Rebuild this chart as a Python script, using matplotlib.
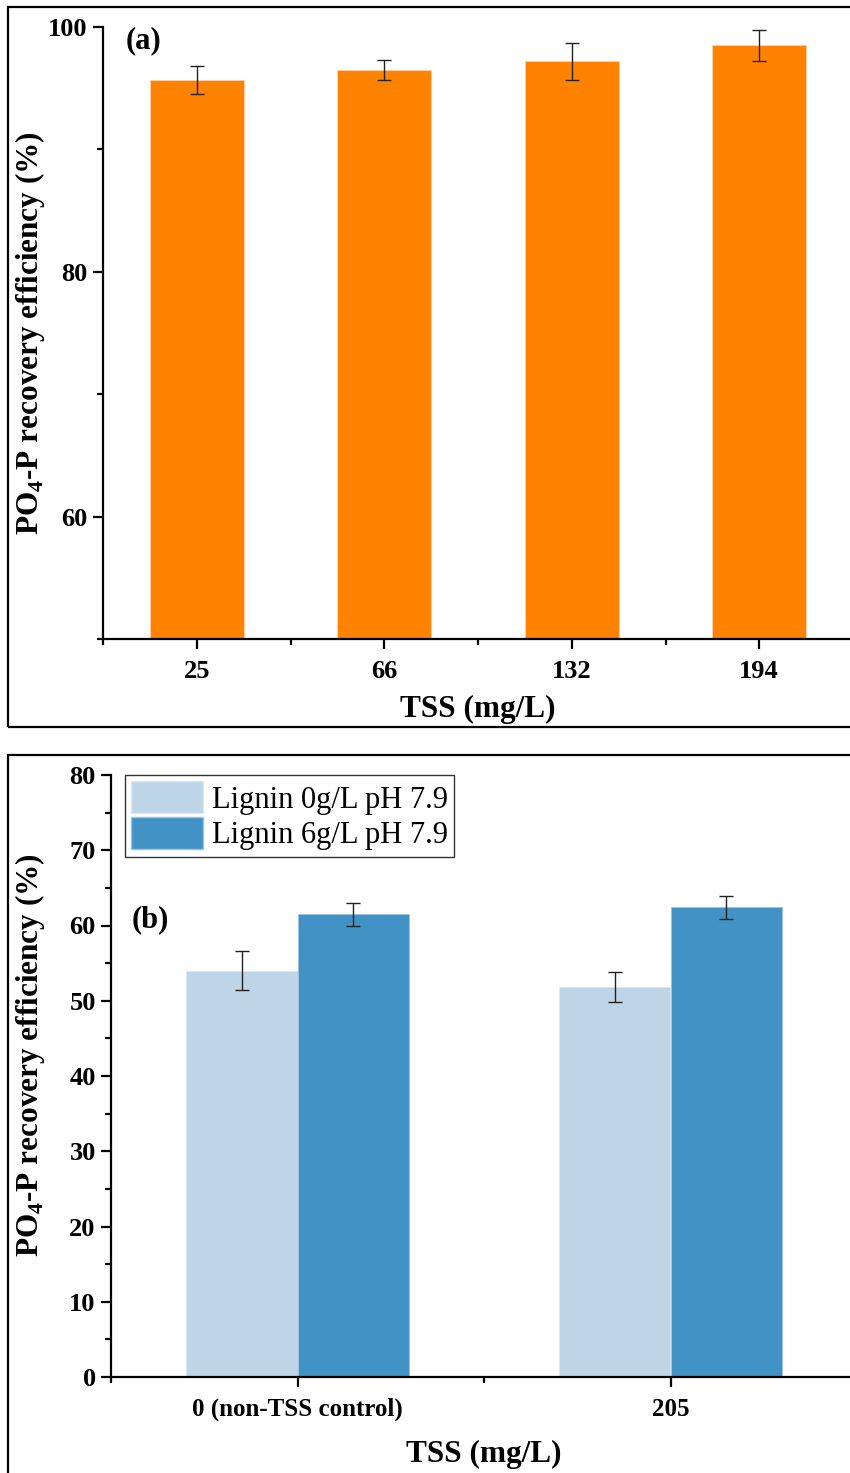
import numpy as np
import matplotlib
matplotlib.use("Agg")
import matplotlib.pyplot as plt
from matplotlib.patches import Rectangle, Patch
from matplotlib.ticker import FixedLocator, MultipleLocator

plt.rcParams['font.family'] = ['Liberation Serif', 'DejaVu Serif']
plt.rcParams['mathtext.fontset'] = 'custom'
plt.rcParams['mathtext.rm'] = 'Liberation Serif:bold'
plt.rcParams['mathtext.bf'] = 'Liberation Serif:bold'

#### panel (a) data ####
tss_a = ["25", "66", "132", "194"]
eff_a = [95.7, 96.5, 97.2, 98.5]
err_a = [1.15, 0.8, 1.5, 1.25]

#### panel (b) data ####
tss_b = ["0 (non-TSS control)", "205"]
lignin_labels = ["Lignin 0g/L pH 7.9", "Lignin 6g/L pH 7.9"]
eff_b0 = [54.0, 51.8]
err_b0 = [2.6, 2.0]
eff_b6 = [61.5, 62.4]
err_b6 = [1.5, 1.5]

W, H = 850, 1473
fig = plt.figure(figsize=(W/100, H/100), dpi=100)

def fx(px):
    return px / W

def fy(py):
    return 1 - py / H

# outer boxes around each panel
fig.patches.append(Rectangle((fx(8), fy(727)), fx(900), fy(7) - fy(727),
                             transform=fig.transFigure, fill=False, lw=1.6, ec='black'))
fig.patches.append(Rectangle((fx(8), fy(1500)), fx(900), fy(755) - fy(1500),
                             transform=fig.transFigure, fill=False, lw=1.6, ec='black'))

labfont = dict(fontsize=22.5, fontweight='bold')

### panel (a) ###
ax1 = fig.add_axes([fx(103), fy(639), fx(853) - fx(103), fy(27) - fy(639)])
x = np.arange(len(tss_a))
ax1.bar(x, eff_a, width=0.5, color='#FF8300', edgecolor='#FFD2A8', lw=0.6)
ax1.errorbar(x, eff_a, yerr=err_a, fmt='none', ecolor='#222222', elinewidth=1.0,
             capsize=5, capthick=1.0)
ax1.set_xlim(-0.5, 3.5)
ax1.set_ylim(50, 100)
ax1.set_xticks(x)
ax1.set_xticklabels(tss_a, fontsize=19, fontweight='bold')
ax1.xaxis.set_minor_locator(FixedLocator([-0.5, 0.5, 1.5, 2.5]))
ax1.set_yticks([60, 80, 100])
ax1.set_yticklabels(["60", "80", "100"], fontsize=19, fontweight='bold')
ax1.yaxis.set_minor_locator(FixedLocator([50, 70, 90]))
ax1.set_xlabel("TSS (mg/L)", **labfont)
ax1.set_ylabel("PO$_{4}$-P recovery efficiency (%)", **labfont)
ax1.xaxis.set_label_coords(0.5, -0.092)
ax1.yaxis.set_label_coords(-0.075, 0.5)
ax1.text(0.03, 0.978, "(a)", transform=ax1.transAxes, ha='left', va='center',
         fontsize=22, fontweight='bold')

### panel (b) ###
ax2 = fig.add_axes([fx(111), fy(1377), fx(857) - fx(111), fy(775) - fy(1377)])
xb = np.arange(len(tss_b))
bw = 0.3
c0, c6 = '#BDD5E7', '#4292C6'
ax2.bar(xb - bw/2, eff_b0, width=bw, color=c0, edgecolor='#DCE9F3', lw=0.6)
ax2.bar(xb + bw/2, eff_b6, width=bw, color=c6, edgecolor='#9CC4E0', lw=0.6)
ax2.errorbar(xb - bw/2, eff_b0, yerr=err_b0, fmt='none', ecolor='#222222',
             elinewidth=1.0, capsize=5, capthick=1.0)
ax2.errorbar(xb + bw/2, eff_b6, yerr=err_b6, fmt='none', ecolor='#222222',
             elinewidth=1.0, capsize=5, capthick=1.0)
ax2.set_xlim(-0.5, 1.5)
ax2.set_ylim(0, 80)
ax2.set_xticks(xb)
ax2.set_xticklabels(tss_b, fontsize=18, fontweight='bold')
ax2.xaxis.set_minor_locator(FixedLocator([-0.5, 0.5]))
ax2.set_yticks(np.arange(0, 81, 10))
ax2.set_yticklabels([str(v) for v in range(0, 81, 10)], fontsize=19, fontweight='bold')
ax2.yaxis.set_minor_locator(MultipleLocator(5))
ax2.set_xlabel("TSS (mg/L)", **labfont)
ax2.set_ylabel("PO$_{4}$-P recovery efficiency (%)", **labfont)
ax2.xaxis.set_label_coords(0.5, -0.105)
ax2.yaxis.set_label_coords(-0.086, 0.535)
ax2.text(0.027, 0.759, "(b)", transform=ax2.transAxes, ha='left', va='center',
         fontsize=22, fontweight='bold')
handles = [Patch(facecolor=c0, edgecolor='#DCE9F3'), Patch(facecolor=c6, edgecolor='#9CC4E0')]
leg = ax2.legend(handles, lignin_labels, loc='upper left', bbox_to_anchor=(0.019, 1.0),
                 borderaxespad=0, fontsize=22, handlelength=2.35, handleheight=1.25,
                 labelspacing=0.08, borderpad=0.2, handletextpad=0.3, fancybox=False,
                 framealpha=1, edgecolor='#333333')
leg.get_frame().set_linewidth(1.0)

for ax in (ax1, ax2):
    ax.spines['top'].set_visible(False)
    ax.spines['right'].set_visible(False)
    ax.spines['left'].set_linewidth(1.6)
    ax.spines['bottom'].set_linewidth(1.6)
    ax.tick_params(which='major', direction='out', length=7, width=1.6)
    ax.tick_params(which='minor', direction='out', length=4, width=1.6)
    ax.tick_params(axis='x', which='major', pad=8)
    ax.tick_params(axis='y', which='major', pad=4)
    ax.set_facecolor('none')

fig.savefig("out.png", dpi=100, facecolor='white')
